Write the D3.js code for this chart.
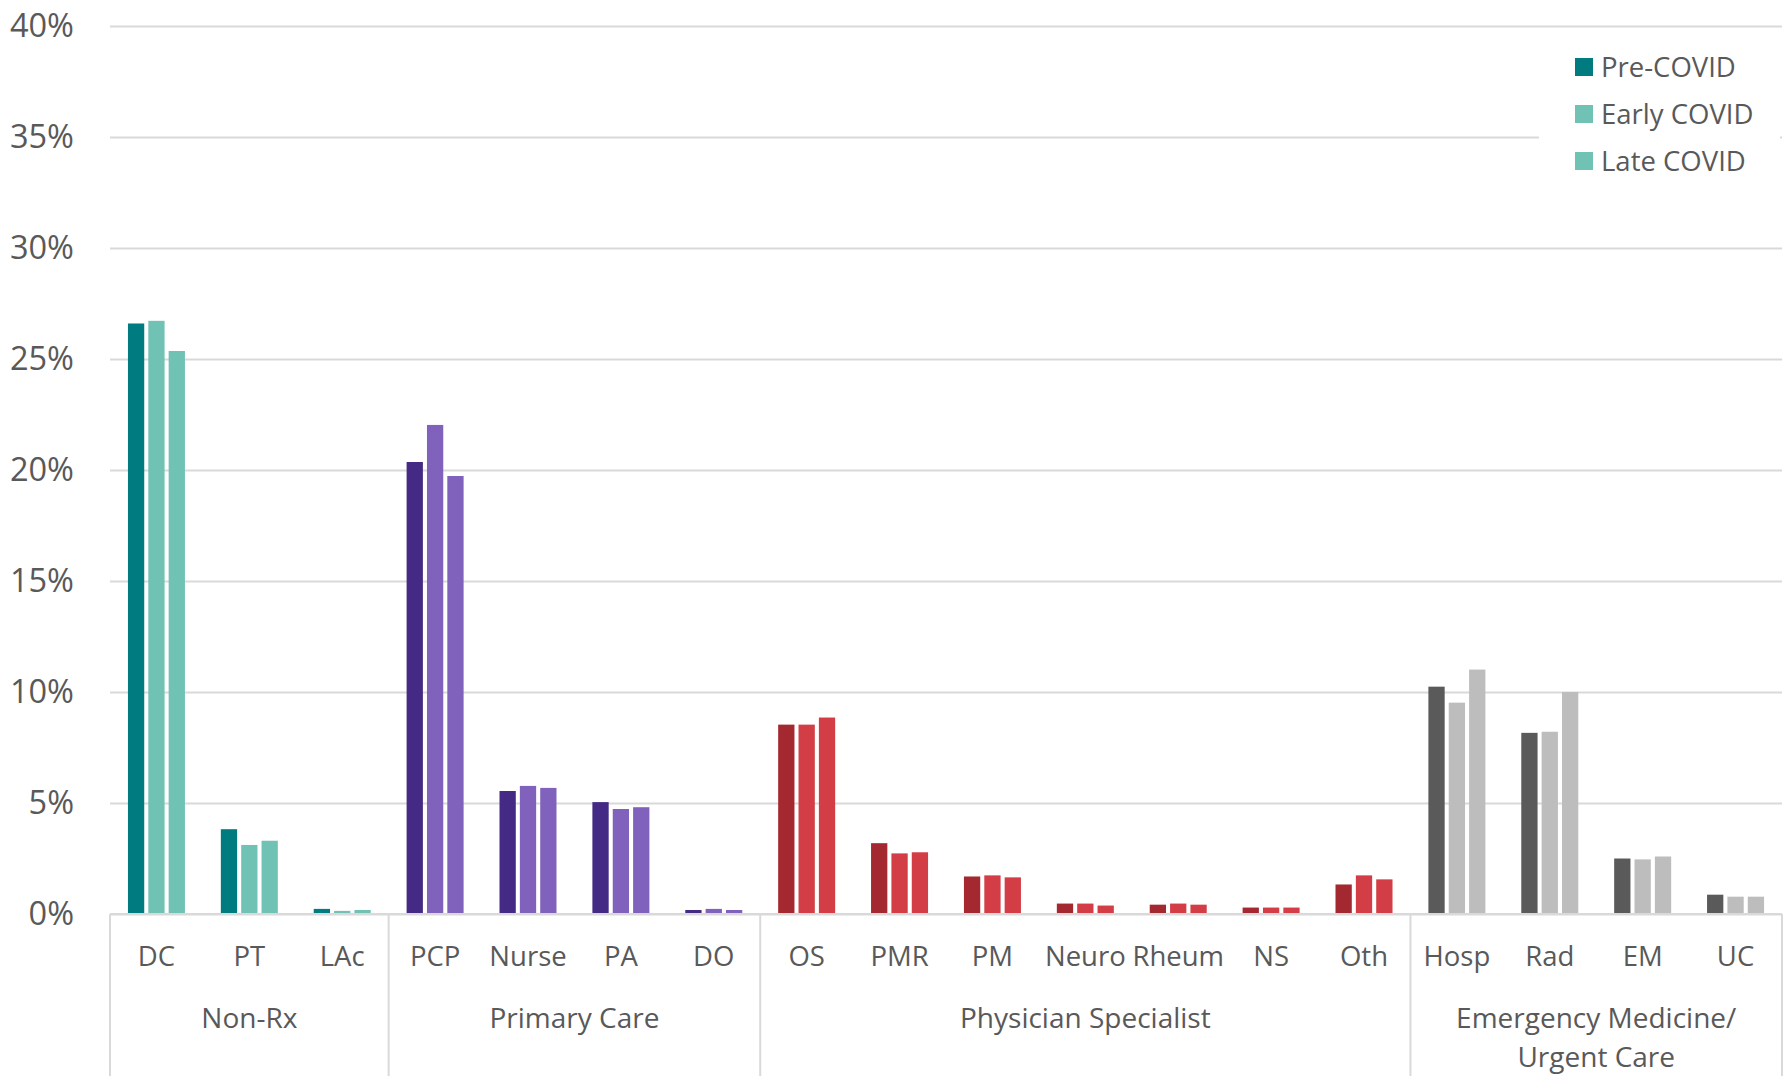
<!DOCTYPE html>
<html><head><meta charset="utf-8">
<script src="https://cdn.jsdelivr.net/npm/d3@7"></script>
<style>
body{margin:0;background:#fff}
text{font-family:"Open Sans",sans-serif;fill:#595959}
</style>
</head><body>
<svg id="c" width="1784" height="1076"></svg>
<script>
const categories = ["DC","PT","LAc","PCP","Nurse","PA","DO","OS","PMR","PM","Neuro","Rheum","NS","Oth","Hosp","Rad","EM","UC"];
const groupNames = [["Non-Rx"],["Primary Care"],["Physician Specialist"],["Emergency Medicine/","Urgent Care"]];
const groupSizes = [3,4,7,4];
const series = ["Pre-COVID","Early COVID","Late COVID"];
const preCovid   = [26.60,3.82,0.23,20.36,5.54,5.04,0.18,8.53,3.19,1.69,0.47,0.42,0.29,1.33,10.24,8.16,2.50,0.87];
const earlyCovid = [26.72,3.11,0.14,22.03,5.77,4.73,0.23,8.53,2.73,1.74,0.47,0.47,0.29,1.74,9.52,8.21,2.46,0.78];
const lateCovid  = [25.36,3.30,0.18,19.73,5.68,4.81,0.18,8.85,2.78,1.65,0.38,0.42,0.29,1.56,11.01,10.00,2.59,0.78];
const yTicks = [0,5,10,15,20,25,30,35,40];
const groupColors = [["#007C80","#70C2B4"],["#442A85","#8062BC"],["#A4282F","#D33D45"],["#5A5A5A","#BDBDBD"]];

const svg = d3.select("#c");
const L = 110, R = 1782, T = 26, B = 914;
const gridColor = "#D9D9D9";

const x = d3.scaleBand().domain(categories).range([L, R]).padding(0);
const bw = x.bandwidth();
const groupW = 57;
const x1 = d3.scaleBand().domain(series).range([(bw-groupW)/2, (bw+groupW)/2]).paddingInner(0.2).paddingOuter(0);
const y = d3.scaleLinear().domain([0,40]).range([B, T]);

// gridlines + y labels
const yAxis = d3.axisLeft(y).tickValues(yTicks).tickFormat(d => d + "%").tickSizeInner(-(R-L)).tickSizeOuter(0).tickPadding(36);
const yg = svg.append("g").attr("transform", `translate(${L},0)`).call(yAxis);
yg.select(".domain").remove();
yg.selectAll(".tick line").attr("stroke", gridColor).attr("stroke-width", 2);
yg.selectAll(".tick text").attr("font-size", 32.5).attr("fill", "#595959").attr("font-family", '"Open Sans",sans-serif');

// group index per category
const groupIdx = [];
groupSizes.forEach((n,g) => { for (let i=0;i<n;i++) groupIdx.push(g); });

const data = [];
categories.forEach((c,i) => {
  [preCovid, earlyCovid, lateCovid].forEach((arr, s) => {
    data.push({cat:c, ser:series[s], v:arr[i], color: groupColors[groupIdx[i]][s===0?0:1]});
  });
});

svg.append("g").selectAll("rect").data(data).join("rect")
  .attr("x", d => x(d.cat) + x1(d.ser))
  .attr("width", x1.bandwidth())
  .attr("y", d => y(d.v))
  .attr("height", d => y(0) - y(d.v))
  .attr("fill", d => d.color);

// baseline
svg.append("line").attr("x1", L).attr("x2", R).attr("y1", B).attr("y2", B).attr("stroke", gridColor).attr("stroke-width", 2);

// category labels
const xAxis = d3.axisBottom(x).tickSize(0).tickPadding(0);
const xg = svg.append("g").attr("transform", `translate(0,${B})`).call(xAxis);
xg.select(".domain").remove();
xg.selectAll(".tick text").attr("font-size", 27.5).attr("fill", "#595959").attr("font-family", '"Open Sans",sans-serif')
  .attr("y", 42).attr("dy", "0.35em");

// group separators and labels
let start = 0;
const seps = [L];
groupSizes.forEach((n,g) => {
  const x0 = x(categories[start]);
  const xEnd = start + n < categories.length ? x(categories[start+n]) : R;
  seps.push(xEnd);
  const cx = (x0 + xEnd)/2;
  const lines = groupNames[g];
  lines.forEach((t, k) => {
    svg.append("text").attr("x", cx).attr("y", 1018 + k*39).attr("dy", "0.35em")
      .attr("text-anchor", "middle").attr("font-size", 28).text(t);
  });
  start += n;
});
svg.append("g").selectAll("line").data(seps).join("line")
  .attr("x1", d => d).attr("x2", d => d).attr("y1", B).attr("y2", 1076)
  .attr("stroke", gridColor).attr("stroke-width", 2);

// legend
const lg = svg.append("g");
lg.append("rect").attr("x", 1539).attr("y", 40).attr("width", 241).attr("height", 150).attr("fill", "#fff");
series.forEach((s, i) => {
  const cy = 67 + i*47;
  lg.append("rect").attr("x", 1575).attr("y", cy-9).attr("width", 18).attr("height", 18)
    .attr("fill", groupColors[0][i===0?0:1]);
  lg.append("text").attr("x", 1601).attr("y", cy).attr("dy", "0.35em").attr("font-size", 27.5).text(s);
});
</script>
</body></html>
